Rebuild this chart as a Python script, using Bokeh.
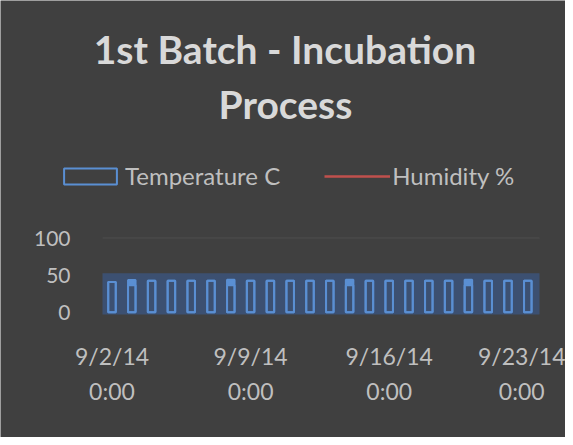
import calendar
from datetime import datetime
from bokeh.plotting import figure
from bokeh.models import (ColumnDataSource, Range1d, FixedTicker, BoxAnnotation, Legend,
                          LegendItem, Label)
from bokeh.embed import file_html
from bokeh.resources import INLINE

# ---- data ----
dates = ["2014-09-02", "2014-09-03", "2014-09-04", "2014-09-05", "2014-09-06", "2014-09-07",
         "2014-09-08", "2014-09-09", "2014-09-10", "2014-09-11", "2014-09-12", "2014-09-13",
         "2014-09-14", "2014-09-15", "2014-09-16", "2014-09-17", "2014-09-18", "2014-09-19",
         "2014-09-20", "2014-09-21", "2014-09-22", "2014-09-23"]
temp_high = [40.8, 43.5, 42.6, 42.6, 42.6, 42.6, 43.8, 42.6, 42.6, 42.6, 42.3,
             42.6, 43.8, 42.6, 42.6, 42.6, 42.6, 42.6, 43.8, 42.6, 42.6, 42.6]
temp_low = [40.8, 36.3, 42.6, 42.6, 42.6, 42.6, 36.5, 42.6, 42.6, 42.6, 42.3,
            42.6, 36.5, 42.6, 42.6, 42.6, 42.6, 42.6, 36.5, 42.6, 42.6, 42.6]
# humidity readings: none visible in the plotted range of the reference
humidity = [None, None, None, None, None, None, None, None, None, None, None,
            None, None, None, None, None, None, None, None, None, None, None]
band_low, band_high = -3, 52.5
y_ticks = [0, 50, 100]
x_tick_dates = ["2014-09-02", "2014-09-09", "2014-09-16", "2014-09-23"]
x_tick_labels = ["9/2/14\n0:00", "9/9/14\n0:00", "9/16/14\n0:00", "9/23/14\n0:00"]
title_line1 = "1st Batch - Incubation"
title_line2 = "Process"


def to_dt(s):
    return datetime.strptime(s, "%Y-%m-%d")


def to_ms(d):
    return calendar.timegm(d.timetuple()) * 1000.0


DAY = 86400000.0
x = [to_dt(d) for d in dates]
src = ColumnDataSource(dict(x=x, hi=temp_high, lo=temp_low))
hsrc = ColumnDataSource(dict(x=x, y=[float("nan") if v is None else v for v in humidity]))

BG = "#404040"
BLUE = "#5a8fd3"
TXT = "#bfbfbf"

# chart plot area: half a day before the first date to ~0.6 day after the last
area_left = to_ms(datetime(2014, 9, 1, 12, 29))
area_right = to_ms(datetime(2014, 9, 23, 14, 10))

p = figure(width=565, height=437, output_backend="svg", toolbar_location=None,
           x_range=Range1d(to_ms(datetime(2014, 8, 27, 8, 51)), to_ms(datetime(2014, 9, 24, 21, 42))),
           y_range=Range1d(-168.7, 420), title=None,
           min_border_left=0, min_border_right=0, min_border_top=0, min_border_bottom=0)
p.background_fill_color = BG
p.border_fill_color = BG
p.outline_line_color = None

# band behind the bars
band = BoxAnnotation(bottom=band_low, top=band_high, left=area_left, right=area_right,
                     fill_color="#3c5071", fill_alpha=1.0, line_color=None, level="underlay")
p.add_layout(band)
# gridline at the top tick
grid_top = BoxAnnotation(bottom=y_ticks[-1], top=y_ticks[-1], left=area_left, right=area_right,
                         fill_alpha=0, line_color="#5e5e5e", line_width=1, level="underlay")
p.add_layout(grid_top)

# temperature bars
p.vbar(x="x", bottom="lo", top="hi", width=0.38 * DAY, source=src,
       fill_color=BLUE, line_color=None)
p.vbar(x="x", bottom=0, top="lo", width=0.38 * DAY, source=src,
       fill_alpha=0, line_color=BLUE, line_width=2)
r_temp = p.vbar(x="x", bottom=0, top="hi", width=0.38 * DAY, source=src,
                fill_alpha=0, line_color=BLUE, line_width=2)
r_hum = p.line(x="x", y="y", source=hsrc, line_color="#c0504d", line_width=2.5)

# axes (pinned to the chart area's edges)
p.yaxis.fixed_location = area_left
p.yaxis.ticker = FixedTicker(ticks=y_ticks)
p.yaxis.axis_line_color = None
p.yaxis.major_tick_line_color = None
p.yaxis.minor_tick_line_color = None
p.yaxis.major_label_standoff = 26
p.yaxis.major_label_text_font = "Lato"
p.yaxis.major_label_text_font_size = "21px"
p.yaxis.major_label_text_color = TXT

x_ticks = [to_ms(to_dt(d)) for d in x_tick_dates]
p.xaxis.fixed_location = band_low
p.xaxis.ticker = FixedTicker(ticks=x_ticks)
p.xaxis.major_label_overrides = {t: l for t, l in zip(x_ticks, x_tick_labels)}
p.xaxis.axis_line_color = None
p.xaxis.major_tick_line_color = None
p.xaxis.minor_tick_line_color = None
p.xaxis.major_label_standoff = 22
p.xaxis.major_label_text_font = "Lato"
p.xaxis.major_label_text_font_size = "23px"
p.xaxis.major_label_text_color = TXT
p.xaxis.major_label_text_line_height = 1.23

p.xgrid.grid_line_color = None
p.ygrid.grid_line_color = None

legend = Legend(items=[LegendItem(label="Temperature C", renderers=[r_temp]),
                       LegendItem(label="Humidity %", renderers=[r_hum])],
                orientation="horizontal", location=(57, 247),
                glyph_width=66, glyph_height=20, label_standoff=2, spacing=44,
                padding=0, margin=0, border_line_color=None, background_fill_alpha=0,
                label_text_font="Lato", label_text_font_size="24px",
                label_text_color=TXT)
p.add_layout(legend)

for txt, sx, sy in [(title_line1, 284.5, 389), (title_line2, 285, 334)]:
    p.add_layout(Label(x=sx, y=sy, x_units="screen", y_units="screen", text=txt,
                       text_align="center", text_baseline="alphabetic",
                       text_font="Lato", text_font_style="bold", text_font_size="39px",
                       text_color="#d9d9d9"))

open("out.html", "w").write(file_html(p, INLINE))
